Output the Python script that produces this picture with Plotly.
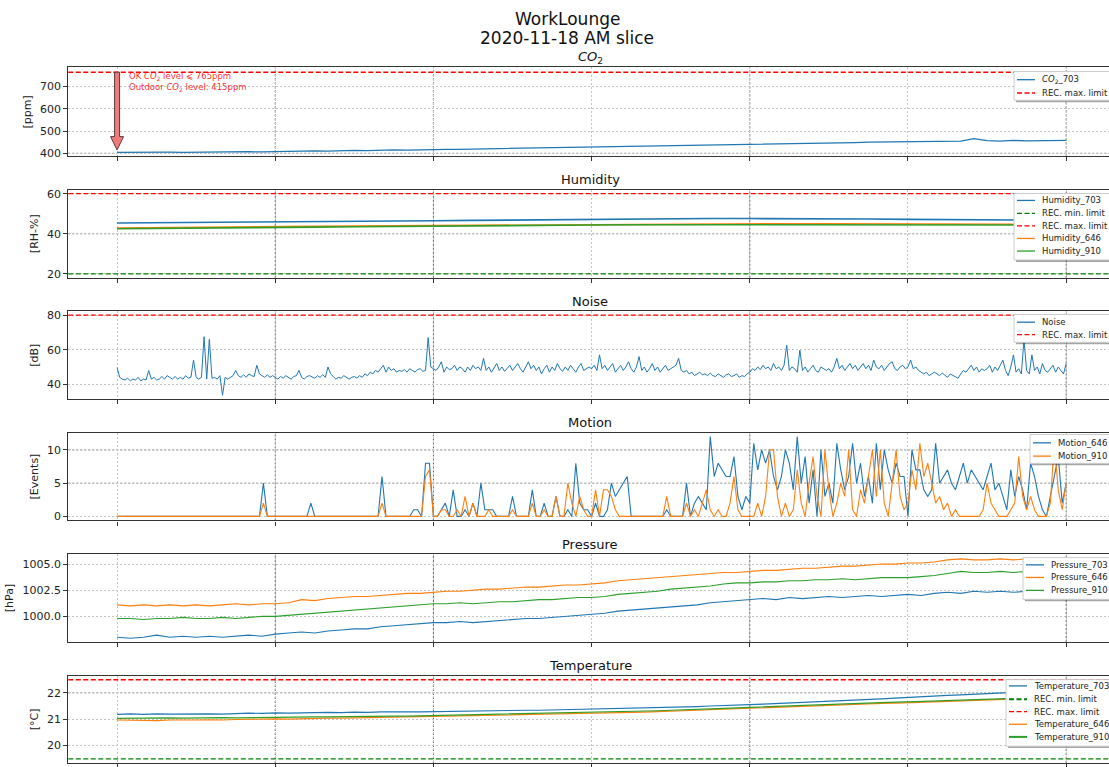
import pandas as pd
import plotly.graph_objects as go

W, H = 1109, 767
START = "2020-11-18 00:00"

# ---------------- data ----------------
CO2_703 = [404, 405, 406, 404, 405, 404,
           405, 406, 405, 406, 407, 406,
           408, 409, 410, 411, 410, 412,
           413, 412, 414, 415, 414, 416,
           417, 418, 418, 419, 420, 419,
           421, 422, 422, 423, 424, 425,
           425, 426, 427, 428, 429, 430,
           431, 432, 433, 434, 435, 436,
           437, 438, 440, 441, 443, 444,
           446, 447, 448, 450, 451, 453,
           454, 455, 454, 456, 455, 466,
           457, 455, 458, 456, 457, 456, 458]
CO2_MAX = 765
CO2_OUTDOOR = 415

HUM_703 = [45.4, 45.5, 45.6, 45.7, 45.8, 45.9, 46.1, 46.3, 46.5, 46.7, 46.9, 47.1, 47.3,
           47.4, 47.5, 47.6, 47.6, 47.6, 47.5, 47.4, 47.2, 47.0, 46.9, 46.8, 46.7]
HUM_646 = [42.9, 43.0, 43.1, 43.3, 43.5, 43.7, 43.9, 44.0, 44.2, 44.4, 44.6, 44.7, 44.8,
           44.9, 45.0, 45.0, 45.0, 45.0, 45.0, 44.9, 44.9, 44.8, 44.8, 44.7, 44.7]
HUM_910 = [42.5, 42.6, 42.7, 42.9, 43.1, 43.3, 43.5, 43.7, 43.9, 44.1, 44.2, 44.3, 44.4,
           44.5, 44.5, 44.6, 44.6, 44.6, 44.5, 44.5, 44.5, 44.5, 44.4, 44.4, 44.4]
HUM_MIN, HUM_MAX = 20, 60

# noise level, one reading every 2 minutes (two rows per hour)
NOISE = [49.7, 44, 43, 42.5, 43.5, 42, 43, 42.5, 44, 42, 43, 42.5, 48, 43, 44,
         42.5, 43, 44.5, 43, 45, 44, 43, 44.5, 43, 44, 43, 45, 43.5, 44, 54,
         44, 43, 44, 67.5, 43, 66, 43.5, 44, 43, 45, 33.7, 44, 43, 44, 45,
         48, 45, 44, 45.5, 44, 46, 45, 44.5, 51, 46, 45, 44, 45.5, 44, 45,
         44, 43, 44.5, 43.5, 45, 44, 43, 44.5, 45, 48, 44, 43, 44.5, 45, 44,
         43.5, 45, 44, 45.5, 44, 50, 46, 44.5, 43, 44, 43.5, 45, 44, 43, 44,
         44.5, 43.5, 45, 44, 46, 45, 47, 46, 48, 47, 49, 51, 47, 50, 48,
         49, 47, 48, 47.5, 48.5, 47, 49, 48, 47, 48.5, 49, 47.5, 48, 67, 50,
         49, 48, 50, 53, 47, 50, 48.5, 49, 51, 48, 50, 49, 47, 50, 48,
         51, 49, 50, 48, 55, 48, 50, 47, 49.5, 52, 48, 50, 47.5, 49, 51,
         48, 50, 52, 49, 47, 50, 53, 49, 51, 48, 50, 46, 49, 51, 47,
         50, 48, 52, 49, 47.5, 50, 48, 51, 49, 47, 50, 52, 48, 49, 50,
         49, 51, 48, 57, 49, 51, 48, 50, 52, 47, 49, 51, 48, 50, 53,
         49, 47, 50, 56, 48, 50, 47, 49, 52, 48, 50, 47, 49, 51, 48,
         49, 50, 51, 55, 48, 47, 48, 46, 47, 45, 46, 47, 45.5, 46, 45,
         46.5, 45, 44.5, 46, 45, 44, 45.5, 46, 44.5, 45, 46, 44, 45, 44.5, 46,
         47, 49, 48, 50, 48.5, 51, 49, 50, 48, 52, 49, 50, 48, 51, 62.6,
         48, 50, 49, 47, 59.7, 48, 50, 47, 49, 51, 48, 47, 50, 49, 48,
         49, 47, 50, 55, 49, 51, 48, 50, 52, 49, 51, 48, 50, 52, 49,
         51, 48, 54, 50, 49, 51, 48, 50, 52, 53, 49, 48, 50, 51, 49,
         50, 54, 49, 50, 48, 47, 46, 47, 45, 46, 47, 46, 45, 46.5, 45,
         44, 46, 45, 44.5, 43.5, 46, 48, 47, 49, 51, 48, 50, 47, 49, 48,
         49, 51, 47, 50, 48, 51, 54, 48, 45, 50, 57, 47, 49, 46, 65.7,
         48, 46, 57, 48, 50, 46, 52, 48, 47, 49, 51, 47, 50, 48, 46, 52]
NOISE_MAX = 80

# motion events, one count every 3 minutes (one row per hour)
MOTION_646 = [0, 0, 0, 0, 0, 0, 0, 0, 0, 0, 0, 0, 0, 0, 0, 0, 0, 0, 0, 0,
              0, 0, 0, 0, 0, 0, 0, 0, 0, 0, 0, 0, 0, 0, 0, 0, 0, 5, 0, 0,
              0, 0, 0, 0, 0, 0, 0, 0, 0, 2, 0, 0, 0, 0, 0, 0, 0, 0, 0, 0,
              0, 0, 0, 0, 0, 0, 0, 6, 0, 0, 0, 0, 0, 0, 0, 1, 1, 0, 8, 8,
              0, 0, 1, 2, 0, 4, 0, 0, 1, 0, 2, 0, 5, 1, 1, 1, 0, 0, 0, 0,
              3, 0, 0, 0, 0, 4, 0, 0, 2, 0, 0, 3, 0, 0, 1, 0, 8, 2, 1, 1,
              0, 2, 0, 0, 1, 5, 3, 4, 5, 6, 0, 0, 0, 0, 0, 0, 0, 0, 0, 1,
              0, 0, 0, 0, 5, 0, 2, 3, 2, 1, 12, 6, 8, 7, 6, 6, 9, 3, 1, 3,
              2, 11, 7, 10, 8, 10, 6, 4, 6, 10, 8, 4, 12, 5, 9, 2, 7, 0, 10, 3,
              5, 2, 11, 7, 4, 6, 11, 5, 8, 3, 6, 2, 11, 4, 10, 7, 5, 8, 6, 6,
              0, 10, 7, 7, 4, 3, 4, 11, 5, 6, 7, 5, 4, 6, 8, 5, 7, 6, 5, 4,
              6, 8, 4, 5, 3, 1, 7, 3, 6, 4, 1, 8, 6, 3, 1, 0, 3, 6, 9, 2, 5]
MOTION_910 = [0, 0, 0, 0, 0, 0, 0, 0, 0, 0, 0, 0, 0, 0, 0, 0, 0, 0, 0, 0,
              0, 0, 0, 0, 0, 0, 0, 0, 0, 0, 0, 0, 0, 0, 0, 0, 0, 2, 0, 0,
              0, 0, 0, 0, 0, 0, 0, 0, 0, 0, 0, 0, 0, 0, 0, 0, 0, 0, 0, 0,
              0, 0, 0, 0, 0, 0, 0, 2, 0, 0, 0, 0, 0, 0, 0, 0, 0, 0, 6, 7,
              0, 0, 1, 1, 0, 0, 1, 0, 3, 0, 2, 0, 0, 0, 1, 0, 0, 0, 0, 0,
              1, 0, 0, 0, 0, 2, 0, 0, 1, 0, 0, 3, 0, 0, 5, 2, 0, 3, 1, 0,
              0, 4, 0, 4, 4, 3, 1, 0, 0, 0, 0, 0, 0, 0, 0, 0, 0, 0, 0, 3,
              0, 0, 0, 0, 2, 0, 1, 0, 2, 4, 1, 0, 1, 0, 0, 2, 6, 1, 0, 0,
              0, 0, 2, 0, 3, 10, 10, 3, 0, 2, 0, 1, 7, 2, 0, 5, 9, 3, 0, 10,
              4, 0, 2, 5, 3, 10, 1, 0, 4, 2, 6, 10, 3, 10, 2, 0, 5, 10, 3, 1,
              2, 7, 4, 11, 6, 8, 5, 2, 3, 1, 2, 0, 1, 0, 0, 0, 0, 0, 0, 1,
              5, 2, 1, 0, 0, 0, 1, 2, 9, 3, 1, 3, 1, 0, 0, 0, 2, 11, 4, 1, 5]

PRES_703 = [998.0, 997.9, 998.0, 998.2, 998.0, 998.1,
            998.0, 998.1, 998.0, 998.1, 998.2, 998.1,
            998.3, 998.4, 998.5, 998.4, 998.6, 998.7,
            998.8, 998.8, 999.0, 999.1, 999.2, 999.3,
            999.4, 999.4, 999.5, 999.4, 999.5, 999.6,
            999.7, 999.8, 999.8, 999.9, 1000.0, 1000.1,
            1000.2, 1000.3, 1000.5, 1000.6, 1000.7, 1000.8,
            1000.9, 1001.0, 1001.1, 1001.3, 1001.4, 1001.5,
            1001.6, 1001.7, 1001.6, 1001.8, 1001.7, 1001.8,
            1001.9, 1001.8, 1001.9, 1002.0, 1001.9, 1002.0,
            1002.1, 1002.0, 1002.2, 1002.3, 1002.2, 1002.4,
            1002.3, 1002.4, 1002.3, 1002.4, 1002.2, 1002.3, 1002.3]
PRES_646 = [1001.1, 1001.0, 1001.1, 1001.0, 1001.1, 1001.0,
            1001.1, 1001.0, 1001.1, 1001.2, 1001.1, 1001.2,
            1001.2, 1001.3, 1001.6, 1001.5, 1001.7, 1001.8,
            1001.9, 1001.9, 1002.0, 1002.1, 1002.2, 1002.2,
            1002.3, 1002.4, 1002.4, 1002.5, 1002.6, 1002.6,
            1002.7, 1002.8, 1002.8, 1002.9, 1003.0, 1003.0,
            1003.1, 1003.2, 1003.4, 1003.5, 1003.6, 1003.7,
            1003.8, 1003.9, 1004.0, 1004.1, 1004.2, 1004.2,
            1004.3, 1004.4, 1004.4, 1004.5, 1004.6, 1004.6,
            1004.7, 1004.8, 1004.8, 1004.9, 1005.0, 1005.0,
            1005.1, 1005.1, 1005.2, 1005.4, 1005.5, 1005.4,
            1005.4, 1005.5, 1005.4, 1005.5, 1005.3, 1005.4, 1005.3]
PRES_910 = [999.8, 999.8, 999.7, 999.8, 999.8, 999.9,
            999.8, 999.8, 999.9, 999.8, 999.9, 1000.0,
            1000.0, 1000.1, 1000.2, 1000.3, 1000.4, 1000.5,
            1000.6, 1000.7, 1000.8, 1000.9, 1001.0, 1001.1,
            1001.2, 1001.2, 1001.3, 1001.2, 1001.3, 1001.4,
            1001.4, 1001.5, 1001.6, 1001.6, 1001.7, 1001.8,
            1001.8, 1001.9, 1002.1, 1002.2, 1002.3, 1002.4,
            1002.6, 1002.7, 1002.8, 1002.9, 1003.1, 1003.2,
            1003.2, 1003.3, 1003.3, 1003.4, 1003.4, 1003.5,
            1003.5, 1003.6, 1003.5, 1003.6, 1003.7, 1003.7,
            1003.7, 1003.8, 1003.9, 1004.1, 1004.3, 1004.2,
            1004.2, 1004.3, 1004.2, 1004.3, 1004.2, 1004.2, 1004.2]

TEMP_703 = [21.18, 21.2, 21.18, 21.2, 21.19, 21.2,
            21.2, 21.2, 21.19, 21.21, 21.23, 21.22,
            21.24, 21.23, 21.25, 21.25, 21.26, 21.25,
            21.27, 21.26, 21.28, 21.27, 21.28, 21.28,
            21.29, 21.3, 21.3, 21.31, 21.32, 21.32,
            21.33, 21.34, 21.34, 21.35, 21.36, 21.36,
            21.37, 21.38, 21.4, 21.41, 21.42, 21.44,
            21.45, 21.46, 21.48, 21.5, 21.51, 21.53,
            21.55, 21.57, 21.59, 21.61, 21.63, 21.65,
            21.68, 21.7, 21.72, 21.75, 21.77, 21.8,
            21.83, 21.85, 21.87, 21.9, 21.92, 21.95,
            21.97, 22.0, 22.02, 22.03, 22.05, 22.06, 22.08]
TEMP_646 = [20.97, 20.96, 20.97, 20.95, 20.97, 20.96,
            20.97, 20.98, 20.97, 20.99, 21.0, 21.0,
            21.01, 21.0, 21.02, 21.03, 21.04, 21.04,
            21.05, 21.06, 21.06, 21.07, 21.08, 21.08,
            21.09, 21.1, 21.11, 21.12, 21.13, 21.14,
            21.15, 21.16, 21.17, 21.18, 21.19, 21.2,
            21.21, 21.23, 21.24, 21.26, 21.27, 21.29,
            21.3, 21.32, 21.34, 21.36, 21.38, 21.4,
            21.42, 21.44, 21.46, 21.48, 21.5, 21.51,
            21.53, 21.55, 21.56, 21.58, 21.6, 21.61,
            21.62, 21.64, 21.66, 21.68, 21.7, 21.72,
            21.74, 21.76, 21.77, 21.79, 21.8, 21.81, 21.82]
TEMP_910 = [21.03, 21.04, 21.03, 21.04, 21.05, 21.04,
            21.05, 21.05, 21.06, 21.05, 21.06, 21.07,
            21.07, 21.08, 21.08, 21.09, 21.09, 21.1,
            21.1, 21.11, 21.11, 21.12, 21.12, 21.13,
            21.13, 21.14, 21.15, 21.16, 21.17, 21.18,
            21.19, 21.2, 21.21, 21.22, 21.23, 21.24,
            21.25, 21.26, 21.28, 21.29, 21.31, 21.32,
            21.34, 21.35, 21.37, 21.39, 21.41, 21.43,
            21.45, 21.47, 21.49, 21.51, 21.53, 21.55,
            21.57, 21.58, 21.6, 21.62, 21.63, 21.65,
            21.66, 21.68, 21.7, 21.71, 21.73, 21.75,
            21.76, 21.78, 21.79, 21.8, 21.81, 21.82, 21.83]
TEMP_MIN, TEMP_MAX = 19.5, 22.5

t2 = pd.date_range(START, periods=len(NOISE), freq="2min")
t3 = pd.date_range(START, periods=len(MOTION_646), freq="3min")
t10 = pd.date_range(START, periods=len(CO2_703), freq="10min")
t30 = pd.date_range(START, periods=len(HUM_703), freq="30min")

# ---------------- style ----------------
BLUE, ORANGE, GREEN = "#1f77b4", "#ff7f0e", "#2ca02c"
LIM_RED, LIM_GREEN = "#ff0000", "#008000"
FONT = "DejaVu Sans"
DASH = "5px,2.5px"
LEG_FONT = 8.5


def fx(px):
    return px / W


def fy(py):
    return 1 - py / H


# panel pixel extents (top, bottom)
PANELS = [(66, 155.5), (189, 278), (311.5, 400.5), (434, 522.5), (556.5, 645), (679, 768)]
TITLES = ["<i>CO</i><sub>2</sub>", "Humidity", "Noise", "Motion", "Pressure", "Temperature"]
YTITLES = ["[ppm]", "[RH-%]", "[dB]", "[Events]", "[hPa]", "[°C]"]
YRANGES = [[386.5, 786], [18, 62.1], [31.3, 82.3], [-0.6, 12.6], [997.55, 1005.95], [19.34, 22.65]]
YTICKS = [[400, 500, 600, 700], [20, 40, 60], [40, 60, 80], [0, 5, 10],
          [1000, 1002.5, 1005], [20, 21, 22]]

X_RANGE = ["2020-11-17 23:23:00", "2020-11-18 12:32:30"]
GRID_T = pd.date_range(START, periods=7, freq="2h")
DARK_T = [GRID_T[i] for i in (1, 2, 4, 6)]

fig = go.Figure()


def add_line(k, x, y, color, width=1.2):
    fig.add_trace(go.Scatter(
        x=x, y=y, mode="lines", line=dict(color=color, width=width),
        xaxis="x" if k == 1 else f"x{k}", yaxis="y" if k == 1 else f"y{k}",
        showlegend=False, hoverinfo="skip"))


add_line(1, t10, CO2_703, BLUE, 1.3)
add_line(2, t30, HUM_703, BLUE, 1.6)
add_line(2, t30, HUM_646, ORANGE, 1.6)
add_line(2, t30, HUM_910, GREEN, 1.6)
add_line(3, t2, NOISE, BLUE, 1.0)
add_line(4, t3, MOTION_646, BLUE, 1.1)
add_line(4, t3, MOTION_910, ORANGE, 1.1)
add_line(5, t10, PRES_703, BLUE, 1.1)
add_line(5, t10, PRES_646, ORANGE, 1.1)
add_line(5, t10, PRES_910, GREEN, 1.1)
add_line(6, t10, TEMP_703, BLUE, 1.2)
add_line(6, t10, TEMP_646, ORANGE, 1.2)
add_line(6, t10, TEMP_910, GREEN, 1.2)

layout = dict(
    width=W, height=H, margin=dict(l=0, r=0, t=0, b=0),
    paper_bgcolor="white", plot_bgcolor="white",
    font=dict(family=FONT, size=11, color="#222"),
    showlegend=False,
)
shapes, annotations = [], []

for k, ((top, bot), ttl, ytl, yr, yt) in enumerate(zip(PANELS, TITLES, YTITLES, YRANGES, YTICKS), start=1):
    xs = "xaxis" if k == 1 else f"xaxis{k}"
    ys = "yaxis" if k == 1 else f"yaxis{k}"
    yname = "y" if k == 1 else f"y{k}"
    xname = "x" if k == 1 else f"x{k}"
    layout[xs] = dict(
        domain=[fx(68.3), 1.0], anchor=yname, range=X_RANGE, type="date",
        showline=True, linecolor="#333", linewidth=1.2, mirror=True,
        ticks="outside", ticklen=4, tickcolor="#333", tickvals=list(GRID_T),
        showticklabels=False, showgrid=True, gridcolor="#c4c4c4",
        griddash="2px,2px", gridwidth=0.8, zeroline=False,
    )
    if k > 1:
        layout[xs]["matches"] = "x"
    layout[ys] = dict(
        domain=[max(0.0, fy(bot)), fy(top)], anchor=xname, range=yr, tickvals=yt,
        tickformat=".1f" if k == 5 else None,
        showline=True, linecolor="#333", linewidth=1.2, mirror=False,
        ticks="outside", ticklen=4, tickcolor="#333",
        tickfont=dict(size=11, color="#222"),
        showgrid=True, gridcolor="#c4c4c4", griddash="2px,2px", gridwidth=0.8,
        zeroline=False,
        title=dict(text=ytl, font=dict(size=11, color="#222"), standoff=6),
    )
    annotations.append(dict(
        text=ttl, x=fx(590), y=fy(top - 10), xref="paper", yref="paper",
        xanchor="center", yanchor="middle", showarrow=False,
        font=dict(size=13, color="#111")))
    for t in DARK_T:
        shapes.append(dict(type="line", xref=xname, yref=f"{yname} domain",
                           x0=t, x1=t, y0=0, y1=1,
                           line=dict(color="#555", width=0.9, dash="2px,2px"), layer="below"))


def hline(k, yv, color, width=1.4, dash=DASH, layer="above"):
    yname = "y" if k == 1 else f"y{k}"
    xname = "x" if k == 1 else f"x{k}"
    shapes.append(dict(type="line", xref=f"{xname} domain", yref=yname,
                       x0=0, x1=1, y0=yv, y1=yv,
                       line=dict(color=color, width=width, dash=dash), layer=layer))


# darker major gridlines
for k, yv in [(1, 400), (2, 40), (4, 5), (4, 10), (6, 22)]:
    hline(k, yv, "#666", 0.9, "2px,2px", "below")

# recommended limits
hline(1, CO2_MAX, LIM_RED, 1.5)
hline(2, HUM_MAX, LIM_RED, 1.2)
hline(2, HUM_MIN, LIM_GREEN, 1.2)
hline(3, NOISE_MAX, LIM_RED, 1.2)
hline(6, TEMP_MAX, LIM_RED, 1.5)
hline(6, TEMP_MIN, LIM_GREEN, 1.2)

# arrow from the indoor limit down to the outdoor level
shapes.append(dict(
    type="path", xref="x", yref="y", xsizemode="pixel", xanchor=START,
    path=(f"M-2.5,{CO2_MAX} L2.5,{CO2_MAX} L2.5,{CO2_OUTDOOR + 60} L6.5,{CO2_OUTDOOR + 60} "
          f"L0,{CO2_OUTDOOR} L-6.5,{CO2_OUTDOOR + 60} L-2.5,{CO2_OUTDOOR + 60} Z"),
    fillcolor="#f07a7a", line=dict(color="#5a3a3a", width=1), layer="above"))

annotations.append(dict(
    text=f"OK <i>CO</i><sub>2</sub> level ⩽ {CO2_MAX}ppm", x=fx(127), y=fy(75.5),
    xref="paper", yref="paper", xanchor="left", yanchor="middle", showarrow=False,
    font=dict(size=8.5, color="rgba(255,0,0,0.85)")))
annotations.append(dict(
    text=f"Outdoor <i>CO</i><sub>2</sub> level: {CO2_OUTDOOR}ppm", x=fx(127), y=fy(86.5),
    xref="paper", yref="paper", xanchor="left", yanchor="middle", showarrow=False,
    font=dict(size=8.5, color="rgba(255,0,0,0.85)")))

# figure title
annotations.append(dict(text="WorkLounge", x=fx(567), y=fy(17), xref="paper", yref="paper",
                        xanchor="center", yanchor="middle", showarrow=False,
                        font=dict(size=17, color="#111")))
annotations.append(dict(text="2020-11-18 AM slice", x=fx(567), y=fy(36), xref="paper",
                        yref="paper", xanchor="center", yanchor="middle", showarrow=False,
                        font=dict(size=17, color="#111")))


def legend_box(left, top, bottom, rows, entries):
    shapes.append(dict(type="rect", xref="paper", yref="paper",
                       x0=fx(left + 2), x1=fx(W + 10), y0=fy(bottom + 2), y1=fy(top + 2),
                       fillcolor="rgba(0,0,0,0.35)", line=dict(width=0), layer="above"))
    shapes.append(dict(type="rect", xref="paper", yref="paper",
                       x0=fx(left), x1=fx(W + 10), y0=fy(bottom), y1=fy(top),
                       fillcolor="white", line=dict(color="#cccccc", width=1), layer="above"))
    for yy, (label, color, dash, width) in zip(rows, entries):
        shapes.append(dict(type="line", xref="paper", yref="paper",
                           x0=fx(left + 3), x1=fx(left + 21), y0=fy(yy), y1=fy(yy),
                           line=dict(color=color, width=width, dash=dash), layer="above"))
        annotations.append(dict(text=label, x=fx(left + 26), y=fy(yy), xref="paper",
                                yref="paper", xanchor="left", yanchor="middle",
                                showarrow=False, font=dict(size=LEG_FONT, color="#222")))


legend_box(1014, 70, 99, [78.3, 91.7],
           [("<i>CO</i><sub>2</sub>_703", BLUE, "solid", 1.3),
            ("REC. max. limit", LIM_RED, DASH, 1.5)])
legend_box(1014, 193, 260, [200, 213, 225.7, 238.3, 251],
           [("Humidity_703", BLUE, "solid", 1.3),
            ("REC. min. limit", LIM_GREEN, DASH, 1.2),
            ("REC. max. limit", LIM_RED, DASH, 1.2),
            ("Humidity_646", ORANGE, "solid", 1.3),
            ("Humidity_910", GREEN, "solid", 1.3)])
legend_box(1014, 315, 343, [322.7, 335.3],
           [("Noise", BLUE, "solid", 1.3),
            ("REC. max. limit", LIM_RED, DASH, 1.2)])
legend_box(1030, 436, 465, [444.3, 457.7],
           [("Motion_646", BLUE, "solid", 1.3),
            ("Motion_910", ORANGE, "solid", 1.3)])
legend_box(1023, 560, 602, [567.3, 580, 593],
           [("Pressure_703", BLUE, "solid", 1.3),
            ("Pressure_646", ORANGE, "solid", 1.3),
            ("Pressure_910", GREEN, "solid", 1.3)])
legend_box(1006, 683, 750, [689.3, 702.7, 715.3, 728, 740.7],
           [("Temperature_703", BLUE, "solid", 1.3),
            ("REC. min. limit", LIM_GREEN, DASH, 2),
            ("REC. max. limit", LIM_RED, DASH, 1.2),
            ("Temperature_646", ORANGE, "solid", 1.3),
            ("Temperature_910", GREEN, "solid", 2)])

layout["shapes"] = shapes
layout["annotations"] = annotations
fig.update_layout(**layout)
fig.write_html("out.html")
